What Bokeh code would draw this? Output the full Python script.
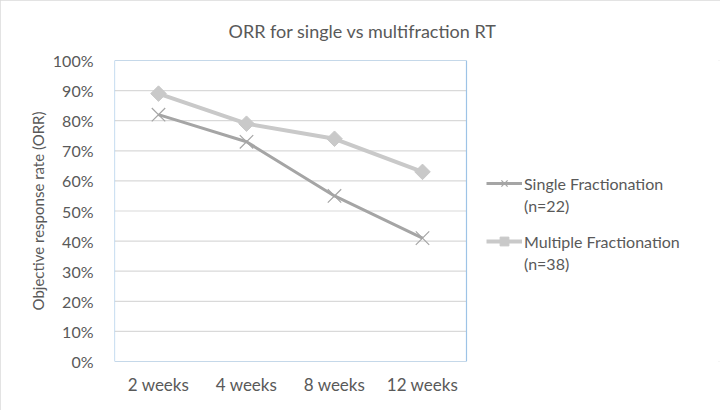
import math
from bokeh.plotting import figure
from bokeh.models import Legend, LegendItem, NumeralTickFormatter, FixedTicker, Range1d
from bokeh.embed import file_html
from bokeh.resources import INLINE

weeks = ["2 weeks", "4 weeks", "8 weeks", "12 weeks"]
single_orr = [0.82, 0.73, 0.55, 0.41]
multiple_orr = [0.89, 0.79, 0.74, 0.63]
y_ticks = [0.0, 0.1, 0.2, 0.3, 0.4, 0.5, 0.6, 0.7, 0.8, 0.9, 1.0]
series_names = ["Single Fractionation", "Multiple Fractionation"]
series_sizes = ["(n=22)", "(n=38)"]

FONT = "Lato"
TEXT = "#595959"

# one slot per time point; categories sit at slot centres
n = len(weeks)
x_pos = [i + 0.5 for i in range(n)]

# frame runs to the right edge so the legend can live beside the plot area
LEFT, TOP, BOTTOM, WIDTH, HEIGHT = 114, 60, 49, 720, 410
AREA_W = 352  # pixel width of the bordered plot area
x_end = n * (WIDTH - LEFT) / AREA_W

p = figure(
    x_range=Range1d(0, x_end),
    y_range=Range1d(0, 1.0),
    width=WIDTH,
    height=HEIGHT,
    output_backend="svg",
    toolbar_location=None,
    min_border_left=LEFT,
    min_border_right=0,
    min_border_top=TOP,
    min_border_bottom=BOTTOM,
    title="ORR for single vs multifraction RT",
)

# thin grey frame around the whole chart
p.stylesheets = [":host { outline: 2px solid #DADADA; outline-offset: -2px; }"]

p.title.align = "left"
p.title.offset = 114
p.title.vertical_align = "top"
p.title.standoff = 34
p.title.text_font = FONT
p.title.text_font_size = "18px"
p.title.text_font_style = "normal"
p.title.text_color = TEXT

p.outline_line_color = None
p.background_fill_color = "white"
p.border_fill_color = "white"

# horizontal gridlines limited to the plot area
p.xgrid.grid_line_color = None
p.ygrid.grid_line_color = None
p.segment(x0=[0] * len(y_ticks), x1=[n] * len(y_ticks), y0=y_ticks, y1=y_ticks,
          line_color="#D9D9D9", line_width=1.2)

# border of the plot area
p.quad(left=[0], right=[n], bottom=[0], top=[1.0],
       fill_color=None, line_color="#9DC3E6", line_width=1.2)

p.yaxis.ticker = FixedTicker(ticks=y_ticks)
p.yaxis.formatter = NumeralTickFormatter(format="0%")
p.yaxis.axis_line_color = None
p.yaxis.major_tick_line_color = None
p.yaxis.minor_tick_line_color = None
p.yaxis.major_label_text_font = FONT
p.yaxis.major_label_text_font_size = "16px"
p.yaxis.major_label_text_color = TEXT
p.yaxis.major_label_standoff = 15
p.yaxis.axis_label = "Objective response rate (ORR)"
p.yaxis.axis_label_text_font = FONT
p.yaxis.axis_label_text_font_size = "15px"
p.yaxis.axis_label_text_font_style = "normal"
p.yaxis.axis_label_text_color = TEXT
p.yaxis.axis_label_standoff = 3

p.xaxis.ticker = FixedTicker(ticks=x_pos)
p.xaxis.major_label_overrides = {x: w for x, w in zip(x_pos, weeks)}
p.xaxis.axis_line_color = None
p.xaxis.major_tick_line_color = None
p.xaxis.minor_tick_line_color = None
p.xaxis.major_label_text_font = FONT
p.xaxis.major_label_text_font_size = "17px"
p.xaxis.major_label_text_color = TEXT
p.xaxis.major_label_standoff = 6

# Multiple fractionation series (lighter, diamonds)
m_line = p.line(x_pos, multiple_orr, line_color="#C9C9C9", line_width=4)
m_pts = p.scatter(x_pos, multiple_orr, marker="square", size=11, angle=math.pi / 4,
                  fill_color="#C9C9C9", line_color="#C9C9C9")

# Single fractionation series (darker, crosses)
s_line = p.line(x_pos, single_orr, line_color="#A5A5A5", line_width=3)
s_pts = p.scatter(x_pos, single_orr, marker="x", size=19,
                  line_color="#A5A5A5", line_width=1.2)

# invisible renderer for the second (sample size) line of each legend entry
blank = p.line(x=[], y=[], line_alpha=0)


def make_legend(name, size, renderers, loc):
    return Legend(
        items=[
            LegendItem(label=name, renderers=renderers),
            LegendItem(label=size, renderers=[blank]),
        ],
        location=loc,
        border_line_color=None,
        background_fill_alpha=0,
        label_text_font=FONT,
        label_text_font_size="16px",
        label_text_color=TEXT,
        glyph_width=36,
        glyph_height=22,
        label_height=22,
        label_standoff=2,
        spacing=0,
        padding=0,
        margin=0,
    )


p.add_layout(make_legend(series_names[0], series_sizes[0], [s_line, s_pts], (372, 145)), "center")
p.add_layout(make_legend(series_names[1], series_sizes[1], [m_line, m_pts], (372, 87)), "center")

open("out.html", "w").write(file_html(p, INLINE))
